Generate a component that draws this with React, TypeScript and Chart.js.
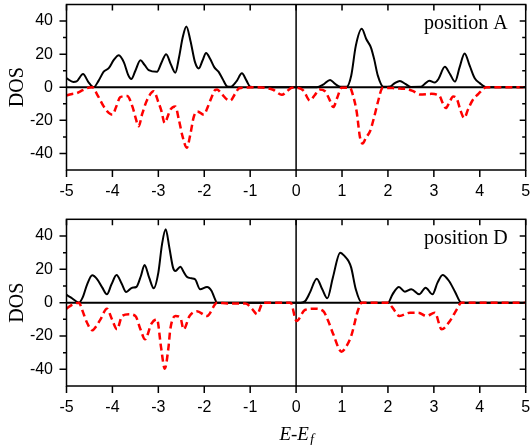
import React, { useEffect, useRef } from "react";
import { Chart, registerables } from "chart.js";

Chart.register(...registerables);

// ---- axis definitions ----
const X_TICKS = [-5, -4, -3, -2, -1, 0, 1, 2, 3, 4, 5];
const Y_TICKS = [-40, -20, 0, 20, 40];
const Y_MINOR = [-30, -10, 10, 30];
const X_RANGE = [-5, 5];
const Y_RANGE = [-50, 50];
const Y_TITLE = "DOS";
const X_TITLE_MAIN = "E-E";
const X_TITLE_SUB = "f";
const PANEL_LABELS = ["position A", "position D"];

// ---- data: [energy, DOS] ----
const posA_up: [number, number][] = [
  [-5, 5.5], [-4.85, 3.2], [-4.78, 3.5], [-4.64, 8], [-4.52, 3], [-4.41, 0], [-4.3, 4],
  [-4.19, 9.4], [-4.08, 11.5], [-3.97, 16.5], [-3.86, 19.3], [-3.75, 15], [-3.65, 7],
  [-3.59, 5], [-3.5, 10], [-3.39, 16.3], [-3.3, 13.5], [-3.21, 10.4], [-3.03, 9.4],
  [-2.93, 15], [-2.83, 20], [-2.73, 14], [-2.63, 8.8], [-2.55, 18], [-2.47, 30],
  [-2.39, 36.7], [-2.3, 28], [-2.2, 15], [-2.12, 11.4], [-2.04, 16], [-1.96, 20.7],
  [-1.87, 17], [-1.78, 12], [-1.69, 9.4], [-1.6, 5], [-1.5, 0.5], [-1.42, 0.3],
  [-1.3, 3.5], [-1.18, 8.4], [-1.08, 4], [-1.0, 0.3], [-0.9, 0], [0.45, 0], [0.6, 1.8],
  [0.74, 4.4], [0.85, 2], [0.96, 0.3], [1.1, 0.3], [1.2, 7], [1.3, 25], [1.43, 35.3],
  [1.53, 29], [1.63, 24], [1.7, 17], [1.78, 7], [1.9, 0.3], [2.05, 0.5], [2.15, 2.5],
  [2.26, 3.8], [2.38, 2], [2.5, 0.2], [2.72, 0.3], [2.82, 2.5], [2.9, 4], [3.02, 2.8],
  [3.1, 5], [3.24, 12.4], [3.35, 8], [3.46, 3.4], [3.56, 12], [3.67, 20.4], [3.78, 13],
  [3.89, 5.4], [4.0, 2.5], [4.15, 0], [5, 0],
];

const posA_down: [number, number][] = [
  [-5, -5], [-4.9, -4.2], [-4.78, -3.6], [-4.65, -1.8], [-4.55, -0.5], [-4.44, 0],
  [-4.32, -5], [-4.19, -11.6], [-4.08, -15.5], [-4.0, -16.6], [-3.92, -12], [-3.83, -6],
  [-3.68, -5.3], [-3.56, -12], [-3.5, -18], [-3.43, -23.6], [-3.35, -16], [-3.25, -8],
  [-3.1, -2.4], [-3.0, -9], [-2.94, -13.6], [-2.86, -21.6], [-2.8, -18], [-2.74, -13.6],
  [-2.63, -11.6], [-2.55, -20], [-2.47, -30], [-2.38, -36.5], [-2.3, -28], [-2.23, -18],
  [-2.15, -14.6], [-2.01, -16.6], [-1.92, -11.6], [-1.84, -6], [-1.76, -1.6],
  [-1.72, -1.4], [-1.62, -4], [-1.5, -7.5], [-1.43, -8], [-1.33, -4], [-1.24, -0.6],
  [-1.1, -0.2], [-0.9, 0], [-0.65, -0.5], [-0.5, -1.5], [-0.31, -4.6], [-0.2, -2.5],
  [-0.09, -0.3], [0.05, -0.5], [0.16, -2], [0.3, -8], [0.4, -5], [0.51, -1.4],
  [0.63, -2.4], [0.72, -7], [0.81, -12], [0.9, -6], [0.99, -0.3], [1.17, -0.3],
  [1.25, -6], [1.32, -15], [1.39, -30], [1.45, -34], [1.52, -30.5], [1.61, -26.6],
  [1.7, -18], [1.79, -8], [1.88, -0.5], [2.1, -0.5], [2.25, -0.8], [2.41, -1],
  [2.55, -2.4], [2.7, -4.4], [2.95, -4], [3.07, -4.5], [3.13, -5.5], [3.2, -10],
  [3.26, -12.6], [3.34, -9], [3.42, -5.6], [3.5, -7], [3.58, -14], [3.66, -18.6],
  [3.75, -13], [3.84, -8], [3.97, -4], [4.15, 0], [5, 0],
];

const posD_up: [number, number][] = [
  [-5, 4.6], [-4.9, 3], [-4.8, 1], [-4.73, 0], [-4.65, 3], [-4.55, 11], [-4.44, 16.4],
  [-4.33, 14], [-4.22, 9], [-4.12, 5], [-4.02, 11], [-3.91, 16.6], [-3.8, 11.5],
  [-3.7, 6.4], [-3.57, 9], [-3.48, 9.4], [-3.38, 16], [-3.3, 22.6], [-3.2, 15],
  [-3.1, 8.6], [-3.0, 18], [-2.92, 35], [-2.84, 44], [-2.76, 33], [-2.68, 21],
  [-2.63, 19], [-2.52, 21.6], [-2.45, 18.5], [-2.38, 15.6], [-2.28, 14.6], [-2.2, 14],
  [-2.09, 8], [-1.94, 9.4], [-1.84, 7], [-1.78, 3], [-1.72, 0], [0.1, 0], [0.2, 1],
  [0.3, 6], [0.45, 14.4], [0.57, 8], [0.68, 2.6], [0.8, 15], [0.96, 30], [1.07, 27.5],
  [1.14, 25], [1.2, 21], [1.3, 8], [1.43, 0], [2.0, 0], [2.1, 5], [2.24, 9.4],
  [2.37, 6.6], [2.51, 8], [2.68, 5], [2.82, 9], [2.97, 5], [3.08, 12], [3.19, 16.6],
  [3.33, 13], [3.46, 6.6], [3.6, 0], [5, 0],
];

const posD_down: [number, number][] = [
  [-5, -3.6], [-4.86, -1], [-4.73, 0], [-4.65, -5], [-4.56, -11.6], [-4.44, -16.6],
  [-4.35, -14], [-4.26, -10], [-4.12, -3.6], [-4.01, -10], [-3.9, -16], [-3.79, -8],
  [-3.64, -7], [-3.5, -8], [-3.39, -16], [-3.29, -22], [-3.15, -12.6], [-3.03, -10],
  [-2.94, -27], [-2.86, -39.6], [-2.78, -27], [-2.74, -16], [-2.63, -8], [-2.52, -9],
  [-2.45, -16], [-2.32, -8], [-2.16, -5.2], [-1.94, -8], [-1.72, 0], [-1.5, -0.5],
  [-1.1, -0.5], [-0.95, -4], [-0.85, -7], [-0.75, -1], [-0.72, 0], [-0.12, 0],
  [0.01, -11], [0.19, -4.4], [0.41, -3.6], [0.59, -5], [0.7, -11], [0.81, -19],
  [0.99, -29.4], [1.1, -26], [1.2, -20], [1.35, -4.4], [1.43, 0], [2.0, 0], [2.1, -3],
  [2.25, -8], [2.48, -6], [2.66, -6], [2.84, -8], [3.02, -6], [3.17, -16], [3.35, -11],
  [3.5, -4], [3.6, 0], [5, 0],
];

const SANS = '"Liberation Sans", Arial, sans-serif';
const SERIF = '"Liberation Serif", "Times New Roman", serif';

const framePlugin = {
  id: "frame",
  beforeDatasetsDraw(chart: any) {
    const { ctx, chartArea, scales } = chart;
    const { left, right, top, bottom } = chartArea;
    const x = scales.x, y = scales.y;
    ctx.save();
    ctx.strokeStyle = "#000";
    ctx.lineWidth = 2;
    const y0 = y.getPixelForValue(0);
    ctx.beginPath();
    ctx.moveTo(left, y0);
    ctx.lineTo(right, y0);
    ctx.stroke();
    ctx.lineWidth = 1.5;
    const x0 = x.getPixelForValue(0);
    ctx.beginPath();
    ctx.moveTo(x0, top);
    ctx.lineTo(x0, bottom);
    ctx.stroke();
    ctx.restore();
  },
  afterDraw(chart: any, _args: any, opts: any) {
    const { ctx, chartArea, scales } = chart;
    const { left, right, top, bottom } = chartArea;
    const x = scales.x, y = scales.y;
    ctx.save();
    ctx.strokeStyle = "#000";
    ctx.lineWidth = 1.5;
    ctx.strokeRect(left, top, right - left, bottom - top);
    ctx.beginPath();
    for (const v of X_TICKS) {
      const px = x.getPixelForValue(v);
      ctx.moveTo(px, bottom);
      ctx.lineTo(px, bottom + 7);
      ctx.moveTo(px, top);
      ctx.lineTo(px, top + 6);
    }
    for (const v of Y_TICKS) {
      const py = y.getPixelForValue(v);
      ctx.moveTo(left - 7, py);
      ctx.lineTo(left, py);
      ctx.moveTo(right - 6, py);
      ctx.lineTo(right, py);
    }
    for (const v of Y_MINOR) {
      const py = y.getPixelForValue(v);
      ctx.moveTo(left - 3.5, py);
      ctx.lineTo(left, py);
      ctx.moveTo(right - 3.5, py);
      ctx.lineTo(right, py);
    }
    ctx.stroke();

    // panel label
    ctx.fillStyle = "#000";
    ctx.font = `20px ${SERIF}`;
    ctx.textAlign = "right";
    ctx.textBaseline = "alphabetic";
    ctx.fillText(opts.label, x.getPixelForValue(4.61), y.getPixelForValue(35));

    if (opts.xTitle) {
      ctx.font = `italic 19px ${SERIF}`;
      const wMain = ctx.measureText(X_TITLE_MAIN).width;
      ctx.font = `italic 14px ${SERIF}`;
      const wSub = ctx.measureText(X_TITLE_SUB).width;
      const cx = (left + right) / 2;
      const sx = cx - (wMain + wSub) / 2;
      const by = bottom + 54;
      ctx.textAlign = "left";
      ctx.font = `italic 19px ${SERIF}`;
      ctx.fillText(X_TITLE_MAIN, sx, by);
      ctx.font = `italic 14px ${SERIF}`;
      ctx.fillText(X_TITLE_SUB, sx + wMain + 1, by + 4);
    }
    ctx.restore();
  },
};

function buildChart(
  canvas: HTMLCanvasElement,
  up: [number, number][],
  down: [number, number][],
  label: string,
  xTitle: boolean,
  padTop: number,
  xAxisHeight: number
) {
  return new Chart(canvas, {
    type: "line",
    data: {
      datasets: [
        {
          data: down.map(([a, b]) => ({ x: a, y: b })),
          borderColor: "#ff0000",
          borderWidth: 2.5,
          borderDash: [7, 4],
          pointRadius: 0,
          cubicInterpolationMode: "monotone",
          fill: false,
        },
        {
          data: up.map(([a, b]) => ({ x: a, y: b })),
          borderColor: "#000000",
          borderWidth: 2,
          pointRadius: 0,
          cubicInterpolationMode: "monotone",
          fill: false,
        },
      ],
    },
    options: {
      responsive: false,
      animation: false,
      devicePixelRatio: 1,
      layout: { autoPadding: false, padding: { top: padTop, right: 5.3, left: 0, bottom: 0 } },
      plugins: {
        legend: { display: false },
        tooltip: { enabled: false },
        frame: { label, xTitle },
      } as any,
      scales: {
        x: {
          type: "linear",
          min: X_RANGE[0],
          max: X_RANGE[1],
          grid: { display: true, drawOnChartArea: false, drawTicks: true, tickLength: 12, tickColor: "rgba(0,0,0,0)" },
          border: { display: false },
          afterBuildTicks: (s: any) => {
            s.ticks = X_TICKS.map((v) => ({ value: v }));
          },
          afterFit: (s: any) => {
            s.height = xAxisHeight;
          },
          ticks: {
            padding: 0,
            color: "#000",
            font: { family: SANS, size: 16 },
            callback: (v: any) => String(v),
            maxRotation: 0,
          },
        },
        y: {
          type: "linear",
          min: Y_RANGE[0],
          max: Y_RANGE[1],
          grid: { display: true, drawOnChartArea: false, drawTicks: true, tickLength: 13.5, tickColor: "rgba(0,0,0,0)" },
          border: { display: false },
          afterBuildTicks: (s: any) => {
            s.ticks = Y_TICKS.map((v) => ({ value: v }));
          },
          afterFit: (s: any) => {
            s.width = 66.5;
          },
          ticks: {
            padding: 0,
            color: "#000",
            font: { family: SANS, size: 16 },
            callback: (v: any) => String(v),
          },
          title: {
            display: true,
            text: Y_TITLE,
            color: "#000",
            font: { family: SERIF, size: 20, lineHeight: 1 },
            padding: { top: 8, bottom: 0 },
          },
        },
      },
    },
    plugins: [framePlugin],
  } as any);
}

export default function App() {
  const topRef = useRef<HTMLCanvasElement>(null);
  const botRef = useRef<HTMLCanvasElement>(null);

  useEffect(() => {
    const c1 = buildChart(topRef.current!, posA_up, posA_down, PANEL_LABELS[0], false, 10.5, 34);
    const c2 = buildChart(botRef.current!, posD_up, posD_down, PANEL_LABELS[1], true, 14.3, 59);
    return () => {
      c1.destroy();
      c2.destroy();
    };
  }, []);

  return (
    <div style={{ position: "absolute", left: 0, top: 0, width: 531, height: 445, background: "#fff", overflow: "hidden" }}>
      <canvas ref={topRef} width={531} height={210} style={{ position: "absolute", left: 0, top: -6 }} />
      <canvas ref={botRef} width={531} height={240} style={{ position: "absolute", left: 0, top: 205 }} />
    </div>
  );
}
